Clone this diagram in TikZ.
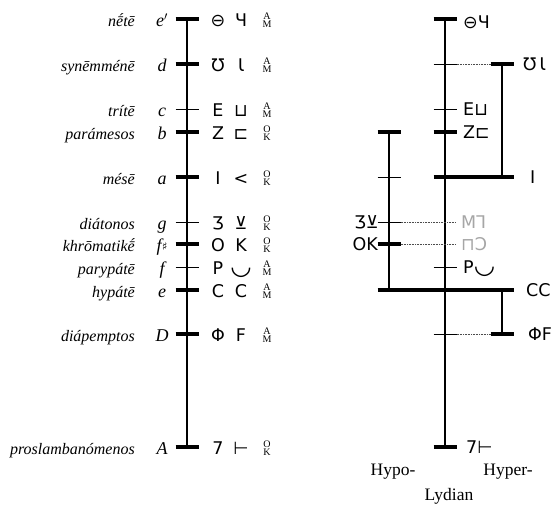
\documentclass[tikz,border=0pt]{standalone}
\usepackage{fontspec}
\setmainfont{Liberation Serif}
\newfontfamily\symfont{DejaVu Sans}
\usetikzlibrary{positioning}

\newcommand\tickat[2]{\draw[#1] ([xshift=-11.5pt]#2) -- ([xshift=11.5pt]#2);}

\begin{document}
\begin{tikzpicture}[x=1pt, y=-1pt,
	termtext/.style={anchor=base east, inner sep=0, font=\fontsize{16}{18}\selectfont\itshape},
	pitchtext/.style={anchor=base, inner sep=0, font=\fontsize{18}{20}\selectfont\itshape},
	symtext/.style={anchor=base, inner sep=0, font=\fontsize{17.5}{20}\selectfont\symfont},
	rsymtext/.style={anchor=base west, inner sep=0, font=\fontsize{17.5}{20}\selectfont\symfont},
	greysym/.style={rsymtext, text=black!35},
	tagtext/.style={align=center, inner sep=0, font=\fontsize{10}{8.5}\selectfont},
	modetext/.style={inner sep=0, font=\fontsize{17.5}{20}\selectfont},
	stem/.style={line width=1.1pt},
	thintick/.style={line width=0.8pt},
	thicktick/.style={line width=3.6pt},
	link/.style={densely dotted, line width=0.6pt, black!70}]
	\useasboundingbox (0,0) rectangle (557,504);

	% left: the full system
	\foreach \r/\y/\w/\nm/\p/\sa/\sb/\tg in {
		ee/19/3.6/{n\'{\=e}t\=e}/{e$'$}/⊖/Ч/{A\\M},
		d/64/3.6/{syn\=emm\'en\=e}/d/Ʊ/Ɩ/{A\\M},
		c/109/0.8/{tr\'it\=e}/c/E/⊔/{A\\M},
		b/132/3.6/{par\'amesos}/b/Z/⊏/{O\\K},
		a/177/3.6/{m\'es\=e}/a/I/</{O\\K},
		g/222/0.8/{di\'atonos}/g/Ʒ/⊻/{O\\K},
		fs/244/3.6/{khr\=omatik\'{\=e}}/{f\kern0.5pt\raisebox{1.5pt}{\symfont\fontsize{11}{11}\selectfont ♯}}/O/K/{O\\K},
		f/267/0.8/{paryp\'at\=e}/f/P/\scalebox{1.4}{◡}/{A\\M},
		e/290/3.6/{hyp\'at\=e}/e/C/C/{A\\M},
		D/334/3.6/{di\'apemptos}/D/Φ/F/{A\\M},
		A/447/3.6/{proslamban\'omenos}/A/7/⊢/{O\\K}}{
		\coordinate (L\r) at (187,\y);
		\draw[line width=\w pt] ([xshift=-11.5pt]L\r) -- ([xshift=11.5pt]L\r);
		\node[termtext] (n\r) at (135,\y+7.5) {\nm};
		\node[pitchtext] (p\r) at (162,\y+7.5) {\p};
		\node[symtext] (sa\r) at (218,\y+7) {\sa};
		\node[symtext] (sb\r) at (241,\y+7) {\sb};
		\node[tagtext] (t\r) at (267,\y+1) {\tg};
	}
	\draw[stem] (Lee) -- (LA);

	% right: Hypo-, Lydian, Hyper-
	\coordinate (Mee) at (445,19); \coordinate (Md) at (445,64); \coordinate (Mc) at (445,109);
	\coordinate (Mb) at (445,132); \coordinate (Ma) at (445,177); \coordinate (Mg) at (445,222);
	\coordinate (Mfs) at (445,244); \coordinate (Mf) at (445,267); \coordinate (Me) at (445,290);
	\coordinate (MD) at (445,334); \coordinate (MA) at (445,447);
	\coordinate (Rd) at (502,64); \coordinate (Ra) at (502,177); \coordinate (Re) at (502,290); \coordinate (RD) at (502,334);
	\coordinate (Pb) at (389,132); \coordinate (Pa) at (389,177); \coordinate (Pg) at (389,222);
	\coordinate (Pfs) at (389,244); \coordinate (Pe) at (389,290);

	\draw[stem] (Mee) -- (MA);
	\draw[stem] (Rd) -- (Ra); \draw[stem] (Re) -- (RD);
	\draw[stem] (Pb) -- (Pe);

	\tickat{thicktick}{Mee} \tickat{thintick}{Md} \tickat{thintick}{Mc} \tickat{thicktick}{Mb}
	\tickat{thintick}{Mf} \tickat{thintick}{MD} \tickat{thicktick}{MA}
	\tickat{thicktick}{Rd} \tickat{thicktick}{RD}
	\tickat{thicktick}{Pb} \tickat{thintick}{Pa} \tickat{thintick}{Pg} \tickat{thicktick}{Pfs}
	\draw[thicktick] ([xshift=-11.5pt]Ma) -- ([xshift=11.5pt]Ra);
	\draw[thicktick] ([xshift=-11.5pt]Pe) -- ([xshift=11.5pt]Re);

	\draw[link] ([xshift=11.5pt]Md) -- ([xshift=-11.5pt]Rd);
	\draw[link] ([xshift=11.5pt]MD) -- ([xshift=-11.5pt]RD);
	\draw[link] ([xshift=11.5pt]Pg) -- ([xshift=10pt]Mg);
	\draw[link] ([xshift=11.5pt]Pfs) -- ([xshift=10pt]Mfs);

	\node[rsymtext] (rsee) at (463,28) {⊖Ч};
	\node[rsymtext] (rsd) at (523,70) {Ʊ\,Ɩ};
	\node[rsymtext] (rsc) at (463,115) {E⊔};
	\node[rsymtext] (rsb) at (463,138) {Z⊏};
	\node[rsymtext] (rsa) at (530,183) {I};
	\node[rsymtext, anchor=base east] (rspg) at (379,228) {Ʒ⊻};
	\node[rsymtext, anchor=base east] (rspfs) at (378,250) {OK};
	\node[greysym] (rsg) at (461,228) {M⅂};
	\node[greysym] (rsfs) at (461,250) {⊓Ɔ};
	\node[rsymtext] (rsf) at (463,273) {P\scalebox{1.4}{◡}};
	\node[rsymtext] (rse) at (526,296) {CC};
	\node[rsymtext] (rsD) at (528,340) {ΦF};
	\node[rsymtext] (rsA) at (466,453) {7⊢};

	\node[modetext] (hypo) at (393,472) {Hypo-};
	\node[modetext] (hyper) at (508,472) {Hyper-};
	\node[modetext] (lydian) at (449,496) {Lydian};
\end{tikzpicture}
\end{document}
